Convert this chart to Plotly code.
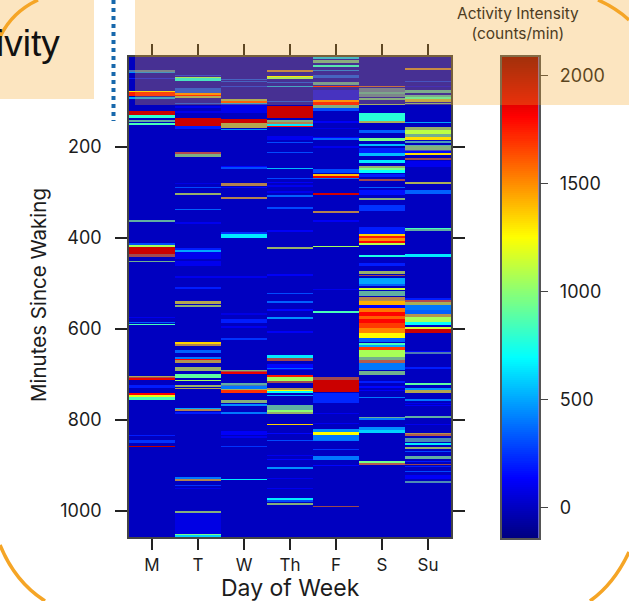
import numpy as np
import plotly.graph_objects as go

W, H = 629, 601
DAYS = ["M", "T", "W", "Th", "F", "S", "Su"]
Y_TICKS = [200, 400, 600, 800, 1000]
CB_TICKS = [0, 500, 1000, 1500, 2000]
MIN_FIRST, MIN_LAST = 2, 1057
N_ROWS = 480
Z_MIN, Z_MAX = -140, 2085

# (start minute, end minute, counts/min) ; a 4th item marks a stripe that reads as blurred/greyed, with a second reading
MON = [(31,35,400,0),(35,37,450),(49,51,200),(78,81,1300),(81,88,1750),(92,94,500),(121,130,1920),(130,135,800),
       (141,144,800,100),(149,151,850),(362,364,800,0),(412,416,300),(416,420,1050),(420,437,1920),(437,442,1900,100),
       (451,453,900,0),(574,575,100),(585,587,350),(590,591,850),(705,707,1300,200),(707,711,1850),(725,730,200),
       (741,745,1800),(745,750,1200),(750,756,850),(833,835,200),(844,851,250),(857,858,1950)]
TUE = [(42,44,250),(47,50,1000),(50,55,700),(72,82,300),(83,87,1500),(87,89,1800),(89,93,1100,300),(104,106,300),(111,113,100),(122,124,100),
       (138,154,1920),(154,161,200),(212,216,1800,500),(216,222,950,600),(280,282,80),(288,290,300),(303,306,1100,500),
       (337,339,350),(366,369,100),(423,427,200),(427,431,500),(431,445,100),(452,461,100),(485,487,100),(508,512,200),
       (540,544,1300,300),(549,552,1050,600),(630,632,1350),(633,637,1500,200),(646,652,350),(662,666,400),(666,670,1800),(670,675,1400,500),
       (685,692,1100,500),(699,708,900),(712,714,1050),(725,727,1100,100),(730,732,1300,500),(774,776,500),(776,780,1500,500),(784,786,200),
       (926,930,400),(930,934,1500,300),(944,946,250),(950,952,100),(1000,1002,700),(1002,1005,1000,500),(1005,1050,80),(1051,1054,950),(1054,1056,600)]
WED = [(51,53,300),(56,58,300),(67,69,250),(95,99,1100,700),(99,104,1650),(104,106,500),(106,125,100),(139,148,1920),
       (148,157,1300,500),(161,163,450),(242,245,150),(245,249,300),(281,285,1500,500),(289,291,150),(311,314,1500,100),(388,391,250),
       (393,399,650),(485,487,100),(566,568,80),(580,587,200),(595,597,100),(621,623,250),(691,694,1000,600),(694,699,1850),
       (720,725,800,300),(725,733,400),(733,735,1200,600),(735,741,1700),(756,763,1000,300),(765,769,450),(784,786,400),(826,828,120),(830,832,120),(837,839,100),
       (858,860,250),(930,932,650)]
THU = [(32,35,1500,200),(44,46,1250),(46,50,1000),(58,60,300),(66,68,500),(100,102,300),(110,137,1920),(141,144,1000,300),(146,150,1500,400),
       (150,154,650),(154,155,1800),(177,185,100),(189,191,300),(212,214,300),(246,248,550),(268,270,300),(278,280,120),
       (285,287,100),(298,300,100),(307,309,350),(333,335,300),(384,386,120),(420,423,1100,100),(481,483,120),(521,523,300),
       (540,542,350),(558,560,150),(575,577,450),(606,608,120),(659,664,650),(664,670,1900,200),(677,690,150),(686,688,350),
       (703,706,1750),(706,714,1050),(715,718,1900,400),(730,733,1400,300),(734,737,1250),(737,741,700),(745,748,500),(768,778,800,200),
       (780,783,1000),(783,787,1100,500),(809,811,1350),(829,831,150),(844,846,300),(877,879,100),(886,888,150),(904,908,450),
       (928,930,100),(950,952,100),(973,975,650),(977,979,300),(983,986,1000,500)]
FRI = [(4,7,550),(10,16,800,200),(21,23,750),(31,33,400),(42,49,300),(58,63,600,300),(66,69,1750),(75,97,150),
       (98,101,1500),(101,108,1800),(108,113,1000,400),(115,120,300),(144,146,120),(159,161,80),(179,181,150),(182,184,350),
       (199,201,100),(250,256,300),(261,264,1400),(264,268,1850),(268,270,400),(301,303,600),(303,305,1900),(341,344,1500,100),
       (362,365,120),(418,420,1050),(513,515,100),(562,564,850),(706,712,1900,600),(712,739,1920),(741,763,220),(785,787,100),
       (807,809,100),(820,826,450),(827,835,1250),(835,845,400),(864,866,250),(881,887,400),(899,901,150),(990,992,1950,0)]
SAT = [(67,69,1700,200),(71,80,350,250),(80,84,650,300),(84,90,400,250),(93,97,800,200),(106,108,1000,300),(127,144,780),(144,148,1200,600),(163,170,350),(181,187,950),
       (194,198,550),(203,212,200),(214,220,550),(230,236,650),(242,247,1100,500),(247,251,950),(251,256,700),(261,266,200),
       (271,274,1900,200),(288,290,350),(295,306,170),(314,317,1000,200),(328,340,250),(376,390,200),(393,397,1350),(397,402,1750),
       (402,407,1500),(407,413,1800),(413,415,1100),(438,441,750),(455,462,200),(474,479,1100,300),(482,484,1900,200),(489,500,500),
       (501,505,350),(511,515,1150),(518,527,800,500),(530,538,1500,700),(538,549,1420),(549,554,150),(554,564,1550),(564,573,1800),
       (573,580,1600),(580,587,1800),(587,599,1680),(599,608,1520),(610,621,1260),(621,628,350),(631,636,850),(636,640,500),(640,648,1680),
       (648,662,1060),(662,670,900,300),(670,674,1700,400),(675,689,400),(694,700,900,300),(716,718,200),(727,729,150),
       (734,736,120),(750,752,400),(794,796,850,500),(797,800,400),(816,822,450),(822,828,600),(892,895,950),(895,898,1700,400)]
SUN = [(28,31,1500,500),(56,58,250),(66,68,100),(76,82,700,500),(86,91,700,300),(91,96,850),(96,100,1300,600),(104,106,900,300),(145,147,500),
       (157,163,1100,400),(163,173,1100),(173,178,900,400),(178,185,1320),(187,192,600,300),(196,199,800,300),(199,208,1000,700),(208,213,150),
       (214,218,1320),(225,228,1920,100),(232,243,100),(278,281,1200,300),(295,304,350),(378,380,850),(382,385,800,200),(435,441,650),
       (533,535,200),(538,541,1800,300),(541,547,1200,500),(549,558,400),(560,566,350),(567,573,1400,500),(574,586,1060),(586,591,700),
       (597,599,1150),(600,608,1920),(650,652,150),(652,655,400,100),(684,687,200),(719,722,900),(730,735,450),(735,741,1300,700),
       (754,757,400),(763,765,100),(767,769,120),(792,795,800,200),(809,811,100),(829,832,1400,300),(832,835,1700,200),(840,848,500,200),
       (852,854,650),(860,863,1100,300),(869,871,300),(880,885,800,450),(890,892,200),(897,899,1950,100),(902,904,200),
       (913,915,300),(921,930,120),(935,938,500,200)]
ALL_DAYS = [MON, TUE, WED, THU, FRI, SAT, SUN]

JET = [[0, "rgb(0,0,128)"], [0.125, "rgb(0,0,255)"], [0.375, "rgb(0,255,255)"],
       [0.625, "rgb(255,255,0)"], [0.875, "rgb(255,0,0)"], [1, "rgb(128,0,0)"]]
VEIL = "rgba(128,122,132,0.6)"

step = (MIN_LAST - MIN_FIRST) / N_ROWS
row_mid = MIN_FIRST + (np.arange(N_ROWS) + 0.5) * step
z = np.zeros((N_ROWS, len(DAYS)))
veil = np.full((N_ROWS, len(DAYS)), np.nan)
for col, events in enumerate(ALL_DAYS):
    for ev in events:
        i0 = int((ev[0] - MIN_FIRST) / step)
        i1 = max(i0 + 1, int(round((ev[1] - MIN_FIRST) / step)))
        z[i0:i1, col] = ev[2]
        if len(ev) == 4:
            veil[i0:i1, col] = 1

px = lambda x: x / W
py = lambda y: 1 - y / H

FONT = "Inter, Liberation Sans, Arial, sans-serif"
INK = "#1c1c1c"
ORANGE = "rgb(245,165,38)"
TINT = "rgba(245,165,38,0.29)"

fig = go.Figure()
fig.add_trace(go.Heatmap(x=DAYS, y=row_mid, z=z, zmin=Z_MIN, zmax=Z_MAX, colorscale=JET,
                         showscale=False, xaxis="x", yaxis="y"))
fig.add_trace(go.Heatmap(x=DAYS, y=row_mid, z=veil, zmin=0, zmax=1, colorscale=[[0, VEIL], [1, VEIL]],
                         showscale=False, hoverinfo="skip", xaxis="x", yaxis="y"))
cb_values = np.linspace(Z_MIN, Z_MAX, 240)
fig.add_trace(go.Heatmap(x=[0], y=cb_values, z=cb_values[:, None], zmin=Z_MIN, zmax=Z_MAX, colorscale=JET,
                         showscale=False, xaxis="x2", yaxis="y2"))

axis_line = dict(showline=True, linecolor="#444", linewidth=1.5, ticks="outside", tickwidth=1.6,
                 tickcolor="#222", showgrid=False, zeroline=False)
tick_font = dict(family=FONT, size=18, color=INK)

fig.update_layout(
    width=W, height=H, margin=dict(l=0, r=0, t=0, b=0), autosize=False,
    paper_bgcolor="white", plot_bgcolor="#0000c4", showlegend=False,
    xaxis=dict(domain=[px(129), px(451)], anchor="y", type="category", range=[-0.5, 6.5], mirror="ticks",
               ticklen=11, tickfont=dict(family=FONT, size=17, color=INK), ticklabelstandoff=1, **axis_line),
    yaxis=dict(domain=[py(537), py(57)], anchor="x", range=[MIN_LAST, MIN_FIRST], mirror="ticks",
               tickvals=Y_TICKS, ticklen=12, tickfont=tick_font, ticklabelstandoff=10, **axis_line),
    xaxis2=dict(domain=[px(501.5), px(538.5)], anchor="y2", range=[-0.5, 0.5], showticklabels=False, ticks="",
                showline=True, mirror=True, linecolor="#555", linewidth=1.5, showgrid=False, zeroline=False),
    yaxis2=dict(domain=[py(538), py(57)], anchor="x2", side="right", range=[Z_MIN, Z_MAX], tickvals=CB_TICKS,
                ticklen=8, tickwidth=1.4, tickcolor="#444", ticks="outside", showline=True, mirror=True,
                linecolor="#555", linewidth=1.5, showgrid=False, zeroline=False, tickfont=tick_font, ticklabelstandoff=8),
)

def arc(x0, y0, cx, cy, x1, y1):
    return dict(type="path", xref="paper", yref="paper", layer="above",
                path=f"M {px(x0)},{py(y0)} Q {px(cx)},{py(cy)} {px(x1)},{py(y1)}",
                line=dict(color=ORANGE, width=3.5))

def box(x0, y0, x1, y1, fill):
    return dict(type="rect", xref="paper", yref="paper", layer="above", x0=px(x0), x1=px(x1),
                y0=py(y1), y1=py(y0), fillcolor=fill, line=dict(width=0))

fig.update_layout(shapes=[
    box(135, 0, W, 105, TINT),
    box(0, 0, 94, 99, TINT),
    dict(type="line", xref="paper", yref="paper", layer="above", x0=px(113.5), x1=px(113.5), y0=py(0), y1=py(121),
         line=dict(color="#1768ac", width=4, dash="4px,4px")),
    arc(0, 37, 12, 12, 38, 0),
    arc(598, 0, 616, 8, 629, 20),
    arc(0, 545, 15, 582, 45, 601),
    arc(629, 552, 614, 584, 590, 601),
])

def note(text, x, y, size, anchor="center", angle=0, color=INK):
    fig.add_annotation(text=text, xref="paper", yref="paper", x=px(x), y=py(y), showarrow=False,
                       xanchor=anchor, yanchor="middle", textangle=angle,
                       font=dict(family=FONT, size=size, color=color))

note("Minutes Since Waking", 38, 295, 20.5, angle=-90)
note("Day of Week", 290, 588, 23)
note("Activity Intensity<br>(counts/min)", 518, 24, 15.5, color="#4d3c22")
fig.add_annotation(text="ivity", xref="paper", yref="paper", x=px(62), y=py(43), showarrow=False,
                   xanchor="right", yanchor="middle", font=dict(family="Liberation Sans, Arial", size=37, color="#111"))

POST = """
document.documentElement.style.overflow='hidden';
document.body.style.margin='0';
document.querySelectorAll('.hm image').forEach(function(im){im.style.filter='blur(0.6px)';});
"""
fig.write_html("out.html", post_script=POST, config=dict(displayModeBar=False))
